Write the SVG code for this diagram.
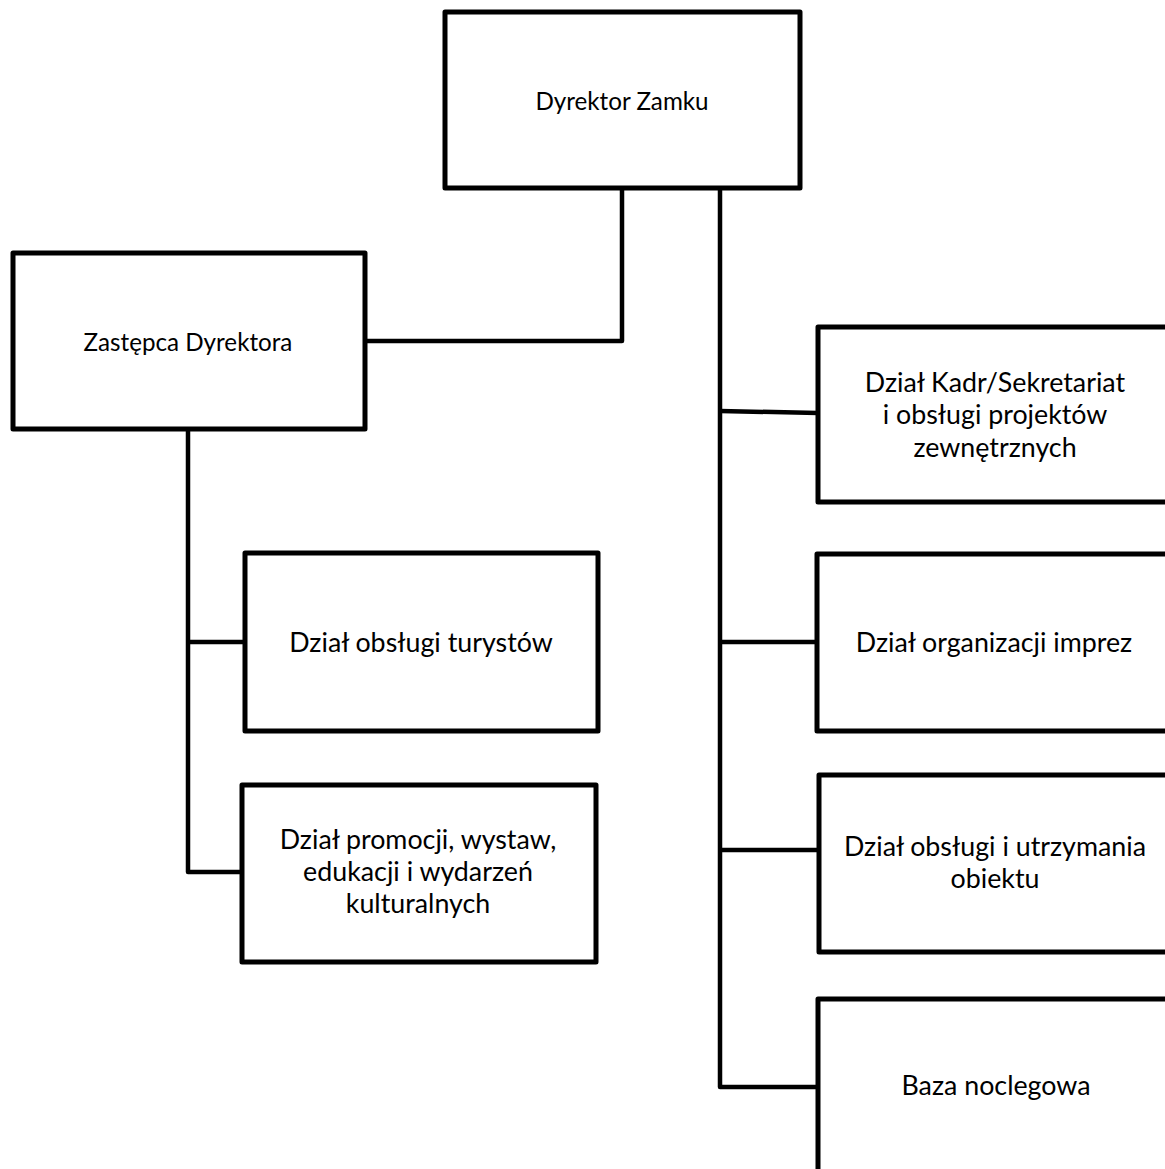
<svg xmlns="http://www.w3.org/2000/svg" width="1165" height="1169" viewBox="0 0 1165 1169">
<style>
.box{fill:#fff;stroke:#000;stroke-width:5;stroke-linejoin:round}
.conn{fill:none;stroke:#000;stroke-width:4.5;stroke-linejoin:round}
.t{font-family:Lato,"Open Sans","Liberation Sans",sans-serif;fill:#000;text-anchor:middle}
.s{font-size:24.2px}
.l{font-size:26.8px}
</style>
<rect width="1165" height="1169" fill="#fff"/>
<g id="connectors">
<path class="conn" d="M622 188 V341 H365"/>
<path class="conn" d="M720 188 V1087 H818"/>
<path class="conn" d="M720 411 L818 413"/>
<path class="conn" d="M720 642 H817"/>
<path class="conn" d="M720 850 H819"/>
<path class="conn" d="M188 429 V872 H242"/>
<path class="conn" d="M188 642 H245"/>
</g>
<g id="dyrektor">
<rect class="box" x="445" y="12" width="355" height="176"/>
<text class="t s" x="622" y="110">Dyrektor Zamku</text>
</g>
<g id="zastepca">
<rect class="box" x="13" y="253" width="352" height="176"/>
<text class="t s" x="188" y="351">Zastępca Dyrektora</text>
</g>
<g id="turystow">
<rect class="box" x="245" y="553" width="353" height="178"/>
<text class="t l" x="421" y="652">Dział obsługi turystów</text>
</g>
<g id="promocji">
<rect class="box" x="242" y="785" width="354" height="177"/>
<text class="t l" x="418" y="849">Dział promocji, wystaw,</text>
<text class="t l" x="418" y="881">edukacji i wydarzeń</text>
<text class="t l" x="418" y="913">kulturalnych</text>
</g>
<g id="kadr">
<rect class="box" x="818" y="327" width="360" height="175"/>
<text class="t l" x="995" y="392">Dział Kadr/Sekretariat</text>
<text class="t l" x="995" y="424">i obsługi projektów</text>
<text class="t l" x="995" y="457">zewnętrznych</text>
</g>
<g id="imprez">
<rect class="box" x="817" y="554" width="360" height="177"/>
<text class="t l" x="994" y="652">Dział organizacji imprez</text>
</g>
<g id="utrzymania">
<rect class="box" x="819" y="775" width="360" height="177"/>
<text class="t l" x="995" y="856">Dział obsługi i utrzymania</text>
<text class="t l" x="995" y="888">obiektu</text>
</g>
<g id="baza">
<rect class="box" x="818" y="999" width="360" height="200"/>
<text class="t l" x="996" y="1095">Baza noclegowa</text>
</g>
</svg>
